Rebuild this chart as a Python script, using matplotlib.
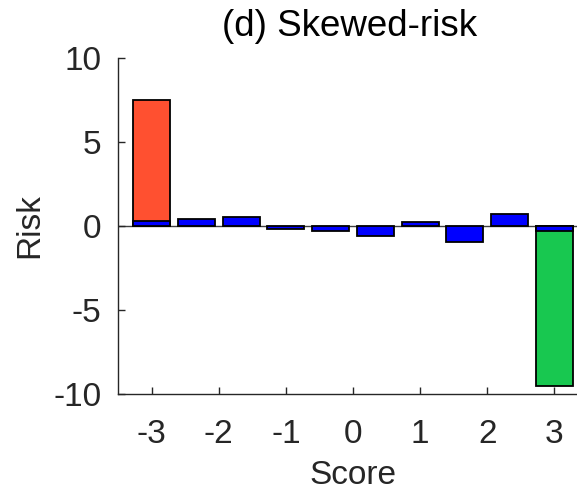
import matplotlib.pyplot as plt
import numpy as np

plt.rcParams['font.family'] = ['Liberation Sans', 'DejaVu Sans']
plt.rcParams['axes.unicode_minus'] = False

# bin centres on the score axis
centers = [-3, -2.333, -1.667, -1, -0.333, 0.333, 1, 1.667, 2.333, 3]
# average risk per bin (blue)
risk = [0.3, 0.44, 0.52, -0.2, -0.3, -0.6, 0.25, -0.97, 0.71, -0.3]
# skewed extremes
top_pos = [-3]
top_val = [7.5]
bot_pos = [3]
bot_val = [-9.5]

xticks = [-3, -2, -1, 0, 1, 2, 3]
yticks = [-10, -5, 0, 5, 10]

fig = plt.figure(figsize=(5.77, 4.91), dpi=100)
ax = fig.add_axes([118 / 577, 97 / 491, 470 / 577, 336 / 491])

w = 0.55
ax.bar(top_pos, top_val, width=w, color='#ff5030', edgecolor='black', linewidth=1.3, zorder=2)
ax.bar(bot_pos, bot_val, width=w, color='#18c850', edgecolor='black', linewidth=1.3, zorder=2)
ax.bar(centers, risk, width=w, color='#0000ff', edgecolor='black', linewidth=1.3, zorder=3)
ax.axhline(0, color='#404040', linewidth=1, zorder=1)

ax.set_xlim(-3.5, 3.5)
ax.set_ylim(-10, 10)
ax.set_xticks(xticks)
ax.set_yticks(yticks)
ax.spines['right'].set_visible(False)
ax.spines['top'].set_visible(False)
for s in ['left', 'bottom']:
    ax.spines[s].set_color('#262626')
    ax.spines[s].set_linewidth(1)
ax.tick_params(direction='in', length=5, width=1, colors='#262626', labelsize=24)
ax.tick_params(axis='x', pad=18)
ax.tick_params(axis='y', pad=12)

ax.set_xlabel('Score', fontsize=24, color='#262626', labelpad=7)
ax.set_ylabel('Risk', fontsize=24, color='#262626', labelpad=6)
fig.text(350 / 577, 1 - 27 / 491, '(d) Skewed-risk', fontsize=26.5, color='black',
         ha='center', va='center')

fig.savefig('out.png', dpi=100)
